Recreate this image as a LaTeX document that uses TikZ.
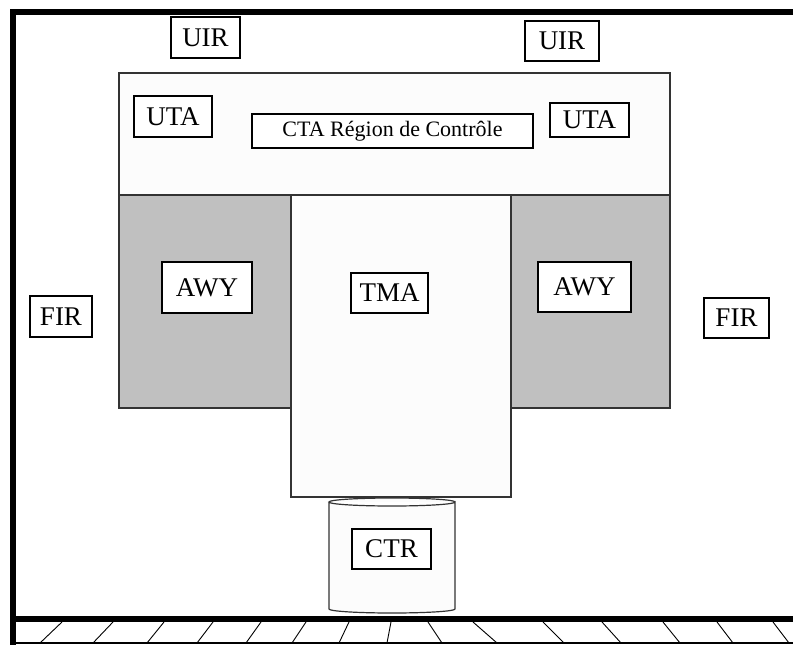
\documentclass[tikz,border=0pt]{standalone}
\usepackage{fontspec}
\setmainfont{Liberation Serif}
\begin{document}
\begin{tikzpicture}[x=1pt, y=-1pt, font=\fontsize{27}{27}\selectfont,
  frame/.style={line width=6pt, black},
  zone/.style={draw=black!80, line width=1.2pt},
  lbl/.style={draw, fill=white, line width=1.2pt, inner sep=0pt},
  hatch/.style={line width=0.9pt}]
\useasboundingbox (0,0) rectangle (793,645);
% regions
\draw[zone, fill=white!99!black] (119,73) rectangle (670,195);
\draw[zone, fill=white!99!black] (291,195) rectangle (511,497);
\draw[zone, fill={rgb,255:red,192;green,192;blue,192}] (119,195) rectangle (291,408);
\draw[zone, fill={rgb,255:red,192;green,192;blue,192}] (511,195) rectangle (670,408);
% CTR cylinder
\draw[zone, fill=white!99!black] (329,502) -- (329,609) arc[start angle=180, end angle=360, x radius=63, y radius=-4] -- (455,502) arc[start angle=0, end angle=360, x radius=63, y radius=4];
% frame and ground
\draw[frame] (13,9) -- (13,645);
\draw[frame] (10,12) -- (793,12);
\draw[frame] (13,619) -- (793,619);
\draw[line width=1.2pt] (13,643) -- (793,643);
\foreach \b/\t in {40/62, 93/113, 147/164, 197/213, 246/261, 292/306, 339/349, 387/391,
                   442/428, 497/473, 564/543, 621/602, 680/663, 733/717, 789/773}
  \draw[hatch] (\b,643) -- (\t,622);
% labels
\node[lbl, minimum width=69pt, minimum height=41pt] (uirL) at (205.5,37.5) {UIR};
\node[lbl, minimum width=74pt, minimum height=40pt] (uirR) at (562,41) {UIR};
\node[lbl, minimum width=78pt, minimum height=41pt] (utaL) at (173,116.5) {UTA};
\node[lbl, minimum width=79pt, minimum height=34pt] (utaR) at (589.5,120) {UTA};
\node[lbl, minimum width=281pt, minimum height=34pt, font=\fontsize{22}{22}\selectfont] (cta) at (392.5,131) {CTA Région de Contrôle};
\node[lbl, minimum width=90pt, minimum height=51pt] (awyL) at (207,287.5) {AWY};
\node[lbl, minimum width=77pt, minimum height=40pt] (tma) at (389.5,293) {TMA};
\node[lbl, minimum width=93pt, minimum height=50pt] (awyR) at (584.5,287) {AWY};
\node[lbl, minimum width=62pt, minimum height=41pt] (firL) at (61,316.5) {FIR};
\node[lbl, minimum width=65pt, minimum height=40pt] (firR) at (736.5,318) {FIR};
\node[lbl, minimum width=79pt, minimum height=40pt] (ctr) at (391.5,549) {CTR};
\end{tikzpicture}
\end{document}
